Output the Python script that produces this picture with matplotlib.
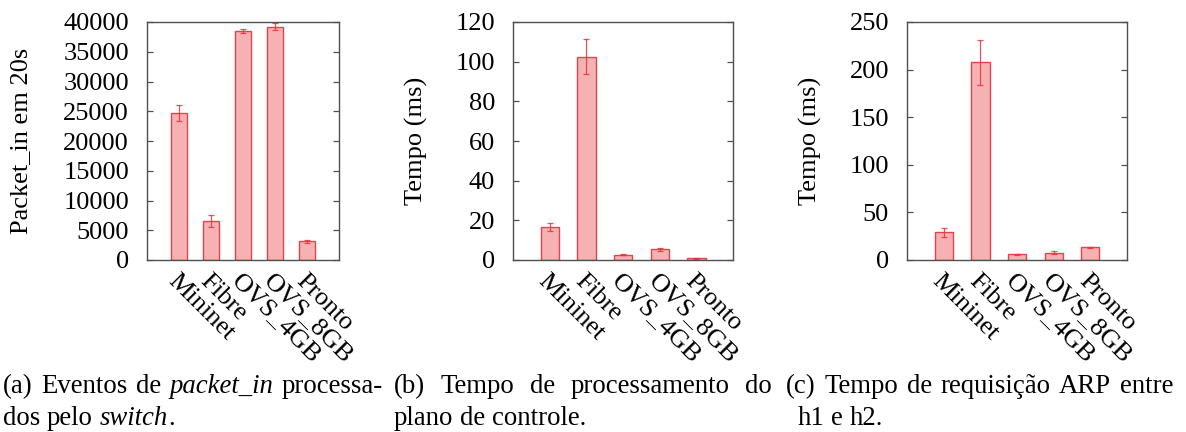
import numpy as np
import matplotlib
matplotlib.use("Agg")
import matplotlib.pyplot as plt

plt.rcParams['font.family'] = ['Liberation Serif', 'DejaVu Serif']

# data
systems = ["Mininet", "Fibre", "OVS_4GB", "OVS_8GB", "Pronto"]
packet_in = [24700, 6550, 38430, 39220, 3140]
packet_in_err = [1350, 950, 350, 550, 250]
ctrl_time = [16.5, 102.5, 2.7, 5.4, 0.9]
ctrl_time_err = [2.0, 8.8, 0.3, 0.7, 0.2]
arp_time = [29.1, 207.6, 6.0, 7.7, 13.3]
arp_time_err = [4.9, 23.5, 0.8, 1.4, 0.6]

ylabels = ["Packet_in em 20s", "Tempo (ms)", "Tempo (ms)"]
yticks = [np.arange(0, 40001, 5000), np.arange(0, 121, 20), np.arange(0, 251, 50)]

W, H = 1186, 432
fig = plt.figure(figsize=(W / 100, H / 100), dpi=100)

fill = "#f6b1b3"
edge = "#e4434d"
errc = "#ee2f3c"
spine = "#505050"
fs = 19

def box(x0, x1):
    return [x0 / W, (H - 260) / H, (x1 - x0) / W, 238 / H]

# axes box, y-label centre (px)
panels = [(box(147, 339), 147, 192, 21, packet_in, packet_in_err),
          (box(513, 733), 513, 220, 416, ctrl_time, ctrl_time_err),
          (box(907, 1127), 907, 220, 810, arp_time, arp_time_err)]

for i, (rect, x0, w, lx, vals, errs) in enumerate(panels):
    ax = fig.add_axes(rect)
    x = np.arange(len(systems))
    ax.bar(x, vals, width=0.5, color=fill, edgecolor=edge, linewidth=1.0)
    ax.errorbar(x, vals, yerr=errs, fmt="none", ecolor=errc, elinewidth=0.9,
                capsize=2, capthick=0.9, alpha=0.85)
    ax.set_xlim(-1, 5)
    ax.set_ylim(yticks[i][0], yticks[i][-1])
    ax.set_yticks(yticks[i])
    ax.set_xticks(x)
    ax.set_xticklabels(systems, rotation=-45, ha="left", va="top",
                       rotation_mode="anchor", fontsize=fs)
    ax.tick_params(axis="x", length=0, pad=7)
    ax.tick_params(axis="y", direction="in", length=4, width=0.9, color=spine,
                   left=True, right=True, labelsize=fs, pad=13)
    for s in ax.spines.values():
        s.set_color(spine)
        s.set_linewidth(1.0)
    ax.set_ylabel(ylabels[i], fontsize=fs, va="center")
    ax.yaxis.set_label_coords((lx - x0) / w, 0.5)

# panel captions
r = fig.canvas.get_renderer()
cfs = 19.3

def seg_width(s, style):
    t = fig.text(0, 0, s, fontsize=cfs, style=style)
    w = t.get_window_extent(r).width
    t.remove()
    return w

def place_line(words, x0, x1, y, justify):
    ws = [sum(seg_width(s, st) for s, st in wd) for wd in words]
    if justify and len(words) > 1:
        gap = (x1 - x0 - sum(ws)) / (len(words) - 1)
    else:
        gap = cfs * 100 / 72 * 0.25
    xp = x0
    for wd, w in zip(words, ws):
        xs = xp
        for s, st in wd:
            fig.text(xs / W, (H - y) / H, s, fontsize=cfs, style=st,
                     ha="left", va="baseline")
            xs += seg_width(s, st)
        xp += w + gap

N, I = "normal", "italic"
place_line([[("(a)", N)], [("Eventos", N)], [("de", N)], [("packet_in", I)],
            [("processa-", N)]], 3, 383, 393, True)
place_line([[("dos", N)], [("pelo", N)], [("switch", I), (".", N)]],
           3, 383, 425, False)
place_line([[("(b)", N)], [("Tempo", N)], [("de", N)], [("processamento", N)],
            [("do", N)]], 394, 772, 393, True)
place_line([[("plano", N)], [("de", N)], [("controle.", N)]], 394, 772, 425, False)
place_line([[("(c)", N)], [("Tempo", N)], [("de", N)], [("requisição", N)],
            [("ARP", N)], [("entre", N)]], 786, 1173, 393, True)
place_line([[("h1", N)], [("e", N)], [("h2.", N)]], 798, 1173, 425, False)

fig.savefig("out.png", dpi=100)
